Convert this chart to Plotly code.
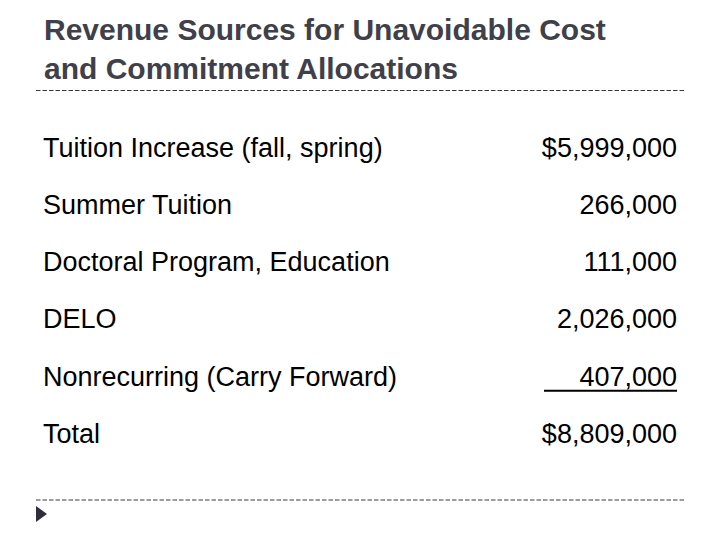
import plotly.graph_objects as go

# Slide content
title = "Revenue Sources for Unavoidable Cost<br>and Commitment Allocations"
sources = ["Tuition Increase (fall, spring)", "Summer Tuition",
           "Doctoral Program, Education", "DELO",
           "Nonrecurring (Carry Forward)", "Total"]
amounts = ["$5,999,000", "266,000", "111,000", "2,026,000", "407,000", "$8,809,000"]
rows = list(range(len(sources)))

# pixel helpers: rows are centred at 150 px and spaced 57.2 px apart
top_px, step_px = 150, 57.2
y_range = [(540 - top_px) / step_px, -top_px / step_px]
body_font = dict(family="Liberation Sans, Arial", size=27, color="#000000")

fig = go.Figure()
fig.add_trace(go.Scatter(x=[43] * len(rows), y=rows, text=sources, mode="text",
                         textposition="middle right", textfont=body_font, hoverinfo="skip"))
fig.add_trace(go.Scatter(x=[677] * len(rows), y=rows, text=amounts, mode="text",
                         textposition="middle left", textfont=body_font, hoverinfo="skip"))

# underline under the last addend
fig.add_shape(type="line", x0=544, x1=677, y0=rows[4] + 0.21, y1=rows[4] + 0.21,
              line=dict(color="#000000", width=2))

# dashed separators and the bullet triangle
for ypx in [90.5, 500]:
    fig.add_shape(type="line", xref="paper", yref="paper",
                  x0=36 / 720, x1=686 / 720, y0=1 - ypx / 540, y1=1 - ypx / 540,
                  line=dict(color="#3a3a3a", width=1, dash="4.5px,2px"))
fig.add_shape(type="path", xref="paper", yref="paper",
              path="M {} {} L {} {} L {} {} Z".format(36 / 720, 1 - 506 / 540, 47 / 720, 1 - 514 / 540,
                                                      36 / 720, 1 - 522 / 540),
              fillcolor="#2e2e38", line=dict(width=0))

fig.add_annotation(text="<b>" + title + "</b>", xref="paper", yref="paper",
                   x=42 / 720, y=1 - 11 / 540, xanchor="left", yanchor="top", align="left",
                   showarrow=False,
                   font=dict(family="Liberation Sans, Arial", size=30, color="#40404a"))

fig.update_xaxes(range=[0, 720], visible=False)
fig.update_yaxes(range=y_range, visible=False)
fig.update_layout(width=720, height=540, margin=dict(l=0, r=0, t=0, b=0),
                  plot_bgcolor="white", paper_bgcolor="white", showlegend=False)

fig.write_html("out.html", config={"displayModeBar": False},
               post_script="document.body.style.margin='0';")
